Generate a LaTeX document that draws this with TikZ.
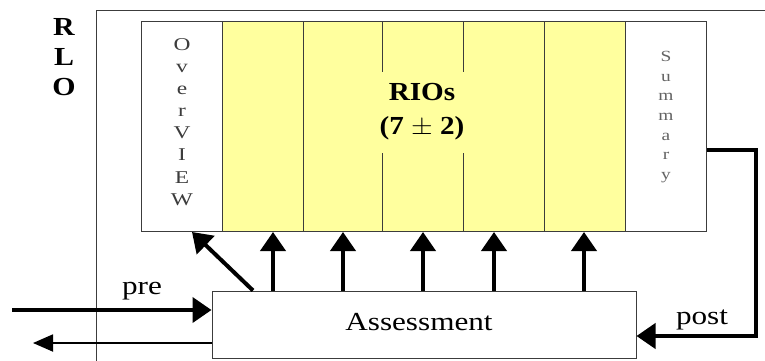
\documentclass[tikz,border=0pt]{standalone}
\usepackage{fontspec}
\setmainfont{Liberation Serif}
\usetikzlibrary{arrows.meta,calc}
\definecolor{rioyellow}{RGB}{255,255,158}
\definecolor{edgegray}{RGB}{60,60,60}
\definecolor{ovtext}{RGB}{60,60,60}
\definecolor{smtext}{RGB}{100,100,100}
\begin{document}
\begin{tikzpicture}[x=1pt,y=-1pt,
  colbox/.style={draw=edgegray,line width=1pt,minimum width=81pt,minimum height=210pt,inner sep=0pt,anchor=north west},
  ybox/.style={colbox,fill=rioyellow},
  wbox/.style={colbox,fill=white},
  arr/.style={line width=4pt,-{Triangle[length=19pt,width=25pt]}},
  thinarr/.style={line width=1.8pt,-{Triangle[length=20pt,width=17pt]}},
  lbl/.style={font=\fontsize{26}{28}\selectfont,xscale=1.2,inner sep=0pt}
]
\useasboundingbox (0,0) rectangle (765,360);
% outer RLO frame (cut off at right and bottom)
\draw[edgegray,line width=1pt] (96,362) -- (96,10) -- (767,10);
\node[font=\bfseries\fontsize{26}{30}\selectfont,align=center,inner sep=0pt,xscale=1.15] (rlo) at (64,57) {R\\L\\O};
% columns
\node[wbox] (ov) at (141,21) {};
\node[ybox] (c1) at (222,21) {};
\node[ybox] (c2) at (303,21) {};
\node[ybox] (c3) at (382,21) {};
\node[ybox] (c4) at (463,21) {};
\node[ybox] (c5) at (544,21) {};
\node[wbox] (sm) at (625,21) {};
% RIOs label (covers the divider lines behind it)
\node[fill=rioyellow,minimum width=90pt,minimum height=81pt,inner sep=0pt] (riofill) at (422.5,112.5) {};
\node[font=\bfseries\fontsize{26}{34}\selectfont,align=center,xscale=1.12,inner sep=0pt] (rios) at (422,112) {RIOs\\(7 $\pm$ 2)};
% vertical texts
\node[font=\fontsize{18}{22.1}\selectfont,text=ovtext,align=center,xscale=1.3,inner sep=0pt] (ovtxt) at (ov.center |- 0,122) {O\\v\\e\\r\\V\\I\\E\\W};
\node[font=\fontsize{15.5}{19.7}\selectfont,text=smtext,align=center,xscale=1.25,inner sep=0pt] (smtxt) at (sm.center |- 0,117) {S\\u\\m\\m\\a\\r\\y};
% assessment
\node[draw=edgegray,line width=1pt,fill=white,minimum width=424pt,minimum height=67pt,inner sep=0pt] (as) at (424,324.5) {};
\node[lbl] (astxt) at (419,322) {Assessment};
% arrow x positions
\coordinate (xd) at (253,0);
\coordinate (xo) at (192,0);
\coordinate (x1) at (273,0);
\coordinate (x2) at (343,0);
\coordinate (x3) at (423,0);
\coordinate (x4) at (494,0);
\coordinate (x5) at (584,0);
\draw[arr] (as.north -| xd) -- (ov.south -| xo);
\draw[arr] (as.north -| x1) -- (c1.south -| x1);
\draw[arr] (as.north -| x2) -- (c2.south -| x2);
\draw[arr] (as.north -| x3) -- (c3.south -| x3);
\draw[arr] (as.north -| x4) -- (c4.south -| x4);
\draw[arr] (as.north -| x5) -- (c5.south -| x5);
% pre / return
\coordinate (prein) at (12,310);
\coordinate (retout) at (33,343);
\draw[arr] (prein) -- (as.west |- prein);
\draw[thinarr] (as.west |- retout) -- (retout);
\node[lbl] (pre) at (142,291) {pre};
% summary -> post
\coordinate (sy) at (0,150);
\coordinate (rc) at (756,0);
\coordinate (py) at (0,336);
\draw[arr,line join=miter] (sm.east |- sy) -- (rc |- sy) -- (rc |- py) -- (as.east |- py);
\node[lbl] (post) at (702,320) {post};
\end{tikzpicture}
\end{document}
